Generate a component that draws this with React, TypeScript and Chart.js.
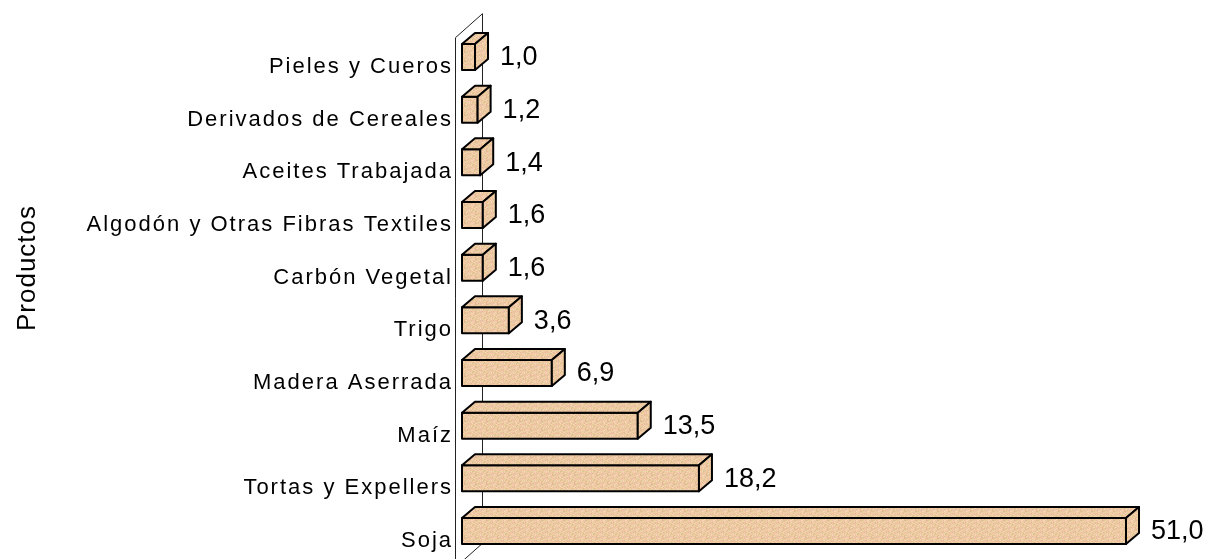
import React, { useEffect, useRef } from "react";
import { Chart, registerables } from "chart.js";

Chart.register(...registerables);

const categories: string[] = [
  "Pieles y Cueros",
  "Derivados de Cereales",
  "Aceites Trabajada",
  "Algodón y Otras Fibras Textiles",
  "Carbón Vegetal",
  "Trigo",
  "Madera Aserrada",
  "Maíz",
  "Tortas y Expellers",
  "Soja",
];
const values: number[] = [1.0, 1.2, 1.4, 1.6, 1.6, 3.6, 6.9, 13.5, 18.2, 51.0];
const axisTitle = "Productos";

const FONT = "'Liberation Sans', Arial, sans-serif";

function makePattern(ctx: CanvasRenderingContext2D): CanvasPattern | string {
  const palette = ["#F2C6A2", "#E2CC98", "#F6D8B8", "#E0BA92", "#EEC0AC", "#E8D0A0", "#F4CCA6"];
  const c = document.createElement("canvas");
  c.width = 11;
  c.height = 9;
  const g = c.getContext("2d");
  if (!g) return "#EBC9A2";
  for (let y = 0; y < c.height; y++) {
    for (let x = 0; x < c.width; x++) {
      g.fillStyle = palette[(x * 3 + y * 5 + ((x * y) % 5)) % palette.length];
      g.fillRect(x, y, 1, 1);
    }
  }
  return ctx.createPattern(c, "repeat") || "#EBC9A2";
}

const DX = 13;
const DY = -11;
const SHIFT_X = 7;
const SHIFT_Y = -10;
const HALF_H = 13;
const WALL_DX = 27;
const WALL_DY = -24;

const threeD = {
  id: "threeD",
  beforeDraw(chart: any) {
    chart.ctx.letterSpacing = "2px";
  },
  beforeDatasetsDraw(chart: any) {
    const { ctx, chartArea } = chart;
    const half = (chartArea.bottom - chartArea.top) / (categories.length - 1) / 2;
    const fx = chartArea.left;
    const fTop = chartArea.top - half - 3;
    const fBot = chartArea.bottom + half;
    ctx.save();
    ctx.strokeStyle = "#222";
    ctx.lineWidth = 1;
    ctx.beginPath();
    ctx.moveTo(fx + 0.5, fBot);
    ctx.lineTo(fx + 0.5, fTop);
    ctx.lineTo(fx + WALL_DX + 0.5, fTop + WALL_DY);
    ctx.lineTo(fx + WALL_DX + 0.5, fBot + WALL_DY);
    ctx.lineTo(fx + 0.5, fBot);
    ctx.stroke();
    ctx.restore();
  },
  afterDatasetsDraw(chart: any) {
    const { ctx } = chart;
    const meta = chart.getDatasetMeta(0);
    const pat = makePattern(ctx);
    ctx.save();
    ctx.letterSpacing = "0px";
    meta.data.forEach((el: any, i: number) => {
      const x0 = el.base + SHIFT_X;
      const x1 = el.x + SHIFT_X;
      const yc = el.y + SHIFT_Y;
      const yT = yc - HALF_H;
      const yB = yc + HALF_H;
      ctx.fillStyle = pat;
      ctx.strokeStyle = "#000";
      ctx.lineWidth = 2;
      ctx.lineJoin = "round";
      // front
      ctx.beginPath();
      ctx.rect(x0, yT, x1 - x0, yB - yT);
      ctx.fill();
      ctx.stroke();
      // top
      ctx.beginPath();
      ctx.moveTo(x0, yT);
      ctx.lineTo(x0 + DX, yT + DY);
      ctx.lineTo(x1 + DX, yT + DY);
      ctx.lineTo(x1, yT);
      ctx.closePath();
      ctx.fill();
      ctx.stroke();
      // right side
      ctx.beginPath();
      ctx.moveTo(x1, yT);
      ctx.lineTo(x1 + DX, yT + DY);
      ctx.lineTo(x1 + DX, yB + DY);
      ctx.lineTo(x1, yB);
      ctx.closePath();
      ctx.fill();
      ctx.stroke();
      // value label
      ctx.fillStyle = "#000";
      ctx.font = `27px ${FONT}`;
      ctx.textAlign = "left";
      ctx.textBaseline = "middle";
      const txt = values[i].toFixed(1).replace(".", ",");
      ctx.fillText(txt, x1 + DX + 12, yc + 1);
    });
    ctx.restore();
  },
  afterDraw(chart: any) {
    const { ctx } = chart;
    ctx.save();
    ctx.letterSpacing = "1px";
    ctx.translate(35, 268);
    ctx.rotate(-Math.PI / 2);
    ctx.font = `26px ${FONT}`;
    ctx.fillStyle = "#000";
    ctx.textAlign = "center";
    ctx.textBaseline = "alphabetic";
    ctx.fillText(axisTitle, 0, 0);
    ctx.restore();
  },
};

export default function App() {
  const ref = useRef<HTMLCanvasElement | null>(null);
  useEffect(() => {
    if (!ref.current) return;
    const chart = new Chart(ref.current, {
      type: "bar",
      data: {
        labels: categories,
        datasets: [
          {
            data: values,
            backgroundColor: "rgba(0,0,0,0)",
            borderWidth: 0,
          },
        ],
      },
      options: {
        indexAxis: "y",
        animation: false,
        responsive: false,
        events: [],
        layout: { padding: { top: 67, bottom: 18, left: 0, right: 96 } },
        plugins: { legend: { display: false }, tooltip: { enabled: false }, title: { display: false } },
        scales: {
          x: { display: false, min: 0, max: 51 },
          y: {
            offset: false,
            grid: { display: false, drawTicks: false },
            border: { display: false },
            ticks: { color: "#000", font: { family: FONT, size: 22 }, padding: 2, autoSkip: false },
            afterFit: (scale: any) => {
              scale.width = 455;
            },
          },
        },
      },
      plugins: [threeD],
    });
    return () => chart.destroy();
  }, []);
  return (
    <div style={{ position: "fixed", left: 0, top: 0, width: 1215, height: 559, background: "#fff" }}>
      <canvas ref={ref} width={1215} height={559} />
    </div>
  );
}
